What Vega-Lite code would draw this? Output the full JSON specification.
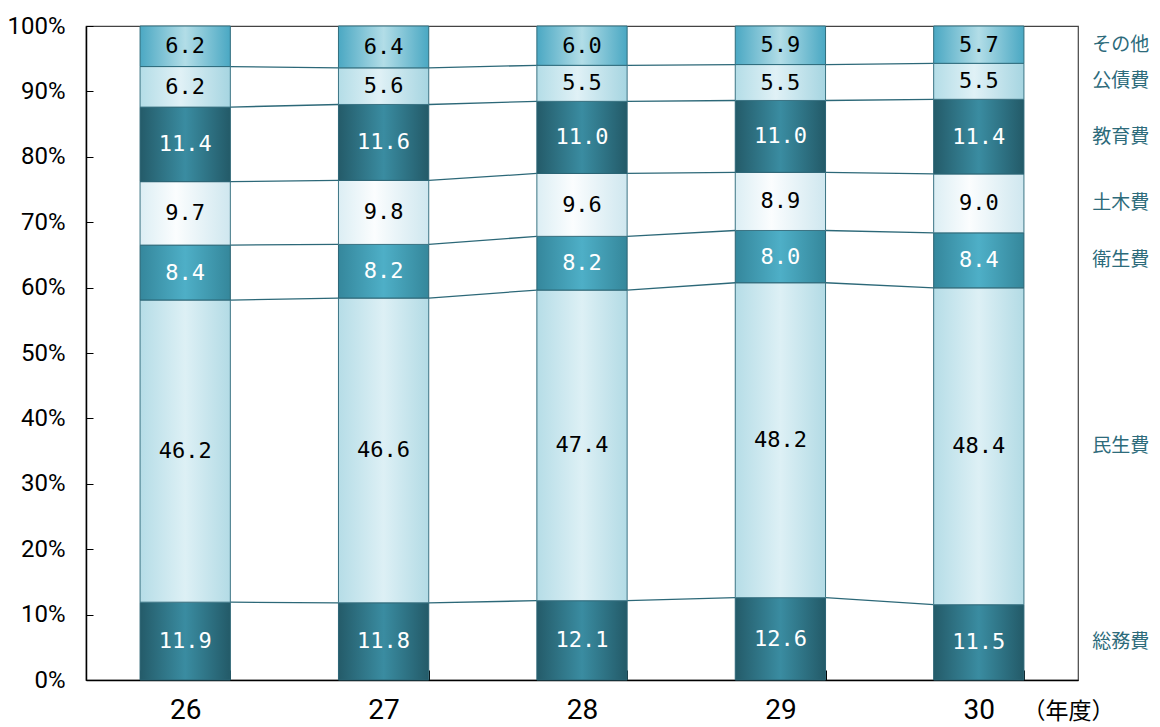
{
  "$schema": "https://vega.github.io/schema/vega-lite/v6.json",
  "width": 992,
  "height": 654,
  "autosize": "none",
  "padding": {"left": 86, "top": 26, "right": 82, "bottom": 47},
  "background": "white",
  "config": {
    "view": {"stroke": "#444444", "strokeWidth": 1.2},
    "font": "Roboto"
  },
  "data": {
    "values": [
      {"year": "26", "category": "総務費", "order": 1, "value": 11.9},
      {"year": "26", "category": "民生費", "order": 2, "value": 46.2},
      {"year": "26", "category": "衛生費", "order": 3, "value": 8.4},
      {"year": "26", "category": "土木費", "order": 4, "value": 9.7},
      {"year": "26", "category": "教育費", "order": 5, "value": 11.4},
      {"year": "26", "category": "公債費", "order": 6, "value": 6.2},
      {"year": "26", "category": "その他", "order": 7, "value": 6.2},
      {"year": "27", "category": "総務費", "order": 1, "value": 11.8},
      {"year": "27", "category": "民生費", "order": 2, "value": 46.6},
      {"year": "27", "category": "衛生費", "order": 3, "value": 8.2},
      {"year": "27", "category": "土木費", "order": 4, "value": 9.8},
      {"year": "27", "category": "教育費", "order": 5, "value": 11.6},
      {"year": "27", "category": "公債費", "order": 6, "value": 5.6},
      {"year": "27", "category": "その他", "order": 7, "value": 6.4},
      {"year": "28", "category": "総務費", "order": 1, "value": 12.1},
      {"year": "28", "category": "民生費", "order": 2, "value": 47.4},
      {"year": "28", "category": "衛生費", "order": 3, "value": 8.2},
      {"year": "28", "category": "土木費", "order": 4, "value": 9.6},
      {"year": "28", "category": "教育費", "order": 5, "value": 11.0},
      {"year": "28", "category": "公債費", "order": 6, "value": 5.5},
      {"year": "28", "category": "その他", "order": 7, "value": 6.0},
      {"year": "29", "category": "総務費", "order": 1, "value": 12.6},
      {"year": "29", "category": "民生費", "order": 2, "value": 48.2},
      {"year": "29", "category": "衛生費", "order": 3, "value": 8.0},
      {"year": "29", "category": "土木費", "order": 4, "value": 8.9},
      {"year": "29", "category": "教育費", "order": 5, "value": 11.0},
      {"year": "29", "category": "公債費", "order": 6, "value": 5.5},
      {"year": "29", "category": "その他", "order": 7, "value": 5.9},
      {"year": "30", "category": "総務費", "order": 1, "value": 11.5},
      {"year": "30", "category": "民生費", "order": 2, "value": 48.4},
      {"year": "30", "category": "衛生費", "order": 3, "value": 8.4},
      {"year": "30", "category": "土木費", "order": 4, "value": 9.0},
      {"year": "30", "category": "教育費", "order": 5, "value": 11.4},
      {"year": "30", "category": "公債費", "order": 6, "value": 5.5},
      {"year": "30", "category": "その他", "order": 7, "value": 5.7}
    ]
  },
  "transform": [
    {"stack": "value", "groupby": ["year"], "sort": [{"field": "order", "order": "ascending"}], "offset": "normalize", "as": ["y0", "y1"]},
    {"calculate": "(datum.y0 + datum.y1) / 2", "as": "mid"}
  ],
  "encoding": {
    "x": {
      "field": "year", "type": "nominal",
      "scale": {"domain": ["26", "27", "28", "29", "30"], "paddingInner": 0.545, "paddingOuter": 0.2725},
      "axis": {
        "title": "（年度）",
        "titleFont": "Noto Sans CJK JP", "titleFontSize": 23, "titleFontWeight": "normal", "titleColor": "#000000",
        "titleAngle": 0, "titleAlign": "center", "titleBaseline": "middle", "titleX": 982, "titleY": 31,
        "labelAngle": 0, "labelFont": "Roboto", "labelFontSize": 28, "labelColor": "#000000",
        "labelBaseline": "middle", "labelPadding": 40, "tickBand": "extent", "tickSize": -10, "tickColor": "#000000",
        "domainColor": "#000000", "domainWidth": 1.5, "grid": false
      }
    }
  },
  "layer": [
    {
      "transform": [
        {"window": [{"op": "lead", "field": "y1", "as": "ny1"}, {"op": "lead", "field": "year", "as": "nyear"}], "groupby": ["category"], "sort": [{"field": "year", "order": "ascending"}]},
        {"filter": "datum.nyear != null && datum.category != 'その他'"}
      ],
      "mark": {"type": "rule", "color": "#2c6878", "strokeWidth": 1.3},
      "encoding": {
        "x": {"field": "year", "type": "nominal", "bandPosition": 1},
        "x2": {"field": "nyear", "bandPosition": 0},
        "y": {"field": "y1", "type": "quantitative", "scale": {"domain": [0, 1]}},
        "y2": {"field": "ny1"}
      }
    },
    {
      "transform": [{"filter": "datum.category == '総務費'"}],
      "mark": {"type": "bar", "stroke": "#2b6474", "strokeWidth": 1,
        "fill": {"gradient": "linear", "x1": 0, "x2": 1, "y1": 0, "y2": 0, "stops": [{"offset": 0, "color": "#245b69"}, {"offset": 0.5, "color": "#3a8ca1"}, {"offset": 1, "color": "#235a68"}]}},
      "encoding": {
        "y": {"field": "y0", "type": "quantitative", "scale": {"domain": [0, 1]},
          "axis": {"title": null, "values": [0, 0.1, 0.2, 0.3, 0.4, 0.5, 0.6, 0.7, 0.8, 0.9, 1], "format": ".0%",
            "labelFont": "Roboto", "labelFontSize": 24, "labelColor": "#000000", "labelPadding": 28,
            "tickSize": -7, "tickColor": "#000000", "domainColor": "#000000", "domainWidth": 1.5, "grid": false}},
        "y2": {"field": "y1"}
      }
    },
    {
      "transform": [{"filter": "datum.category == '民生費'"}],
      "mark": {"type": "bar", "stroke": "#3b7484", "strokeWidth": 1,
        "fill": {"gradient": "linear", "x1": 0, "x2": 1, "y1": 0, "y2": 0, "stops": [{"offset": 0, "color": "#b6dde7"}, {"offset": 0.5, "color": "#ddf0f5"}, {"offset": 1, "color": "#b3dbe5"}]}},
      "encoding": {"y": {"field": "y0", "type": "quantitative"}, "y2": {"field": "y1"}}
    },
    {
      "transform": [{"filter": "datum.category == '衛生費'"}],
      "mark": {"type": "bar", "stroke": "#2b6474", "strokeWidth": 1,
        "fill": {"gradient": "linear", "x1": 0, "x2": 1, "y1": 0, "y2": 0, "stops": [{"offset": 0, "color": "#35879c"}, {"offset": 0.5, "color": "#4eafc7"}, {"offset": 1, "color": "#35879b"}]}},
      "encoding": {"y": {"field": "y0", "type": "quantitative"}, "y2": {"field": "y1"}}
    },
    {
      "transform": [{"filter": "datum.category == '土木費'"}],
      "mark": {"type": "bar", "stroke": "#3b7484", "strokeWidth": 1,
        "fill": {"gradient": "linear", "x1": 0, "x2": 1, "y1": 0, "y2": 0, "stops": [{"offset": 0, "color": "#dceef4"}, {"offset": 0.4, "color": "#fbfdfe"}, {"offset": 1, "color": "#cfe7ef"}]}},
      "encoding": {"y": {"field": "y0", "type": "quantitative"}, "y2": {"field": "y1"}}
    },
    {
      "transform": [{"filter": "datum.category == '教育費'"}],
      "mark": {"type": "bar", "stroke": "#2b6474", "strokeWidth": 1,
        "fill": {"gradient": "linear", "x1": 0, "x2": 1, "y1": 0, "y2": 0, "stops": [{"offset": 0, "color": "#245b69"}, {"offset": 0.5, "color": "#3a8ca1"}, {"offset": 1, "color": "#235a68"}]}},
      "encoding": {"y": {"field": "y0", "type": "quantitative"}, "y2": {"field": "y1"}}
    },
    {
      "transform": [{"filter": "datum.category == '公債費'"}],
      "mark": {"type": "bar", "stroke": "#3b7484", "strokeWidth": 1,
        "fill": {"gradient": "linear", "x1": 0, "x2": 1, "y1": 0, "y2": 0, "stops": [{"offset": 0, "color": "#b4dde7"}, {"offset": 0.45, "color": "#e0f1f6"}, {"offset": 1, "color": "#a6d5e1"}]}},
      "encoding": {"y": {"field": "y0", "type": "quantitative"}, "y2": {"field": "y1"}}
    },
    {
      "transform": [{"filter": "datum.category == 'その他'"}],
      "mark": {"type": "bar", "stroke": "#2f6d7d", "strokeWidth": 1,
        "fill": {"gradient": "linear", "x1": 0, "x2": 1, "y1": 0, "y2": 0, "stops": [{"offset": 0, "color": "#4ba8c3"}, {"offset": 0.5, "color": "#b2dde7"}, {"offset": 1, "color": "#4aa8c3"}]}},
      "encoding": {"y": {"field": "y0", "type": "quantitative"}, "y2": {"field": "y1"}}
    },
    {
      "mark": {"type": "text", "font": "DejaVu Sans Mono", "fontSize": 22, "baseline": "middle", "align": "center"},
      "encoding": {
        "y": {"field": "mid", "type": "quantitative"},
        "text": {"field": "value", "type": "quantitative", "format": ".1f"},
        "color": {"field": "category", "type": "nominal", "legend": null,
          "scale": {"domain": ["総務費", "民生費", "衛生費", "土木費", "教育費", "公債費", "その他"], "range": ["#ffffff", "#000000", "#ffffff", "#000000", "#ffffff", "#000000", "#000000"]}}
      }
    },
    {
      "transform": [{"filter": "datum.year == '30'"}],
      "mark": {"type": "text", "font": "Noto Sans CJK JP", "fontSize": 19, "baseline": "middle", "align": "center", "dx": 142, "color": "#2d6b7b"},
      "encoding": {
        "y": {"field": "mid", "type": "quantitative"},
        "text": {"field": "category", "type": "nominal"}
      }
    }
  ]
}
